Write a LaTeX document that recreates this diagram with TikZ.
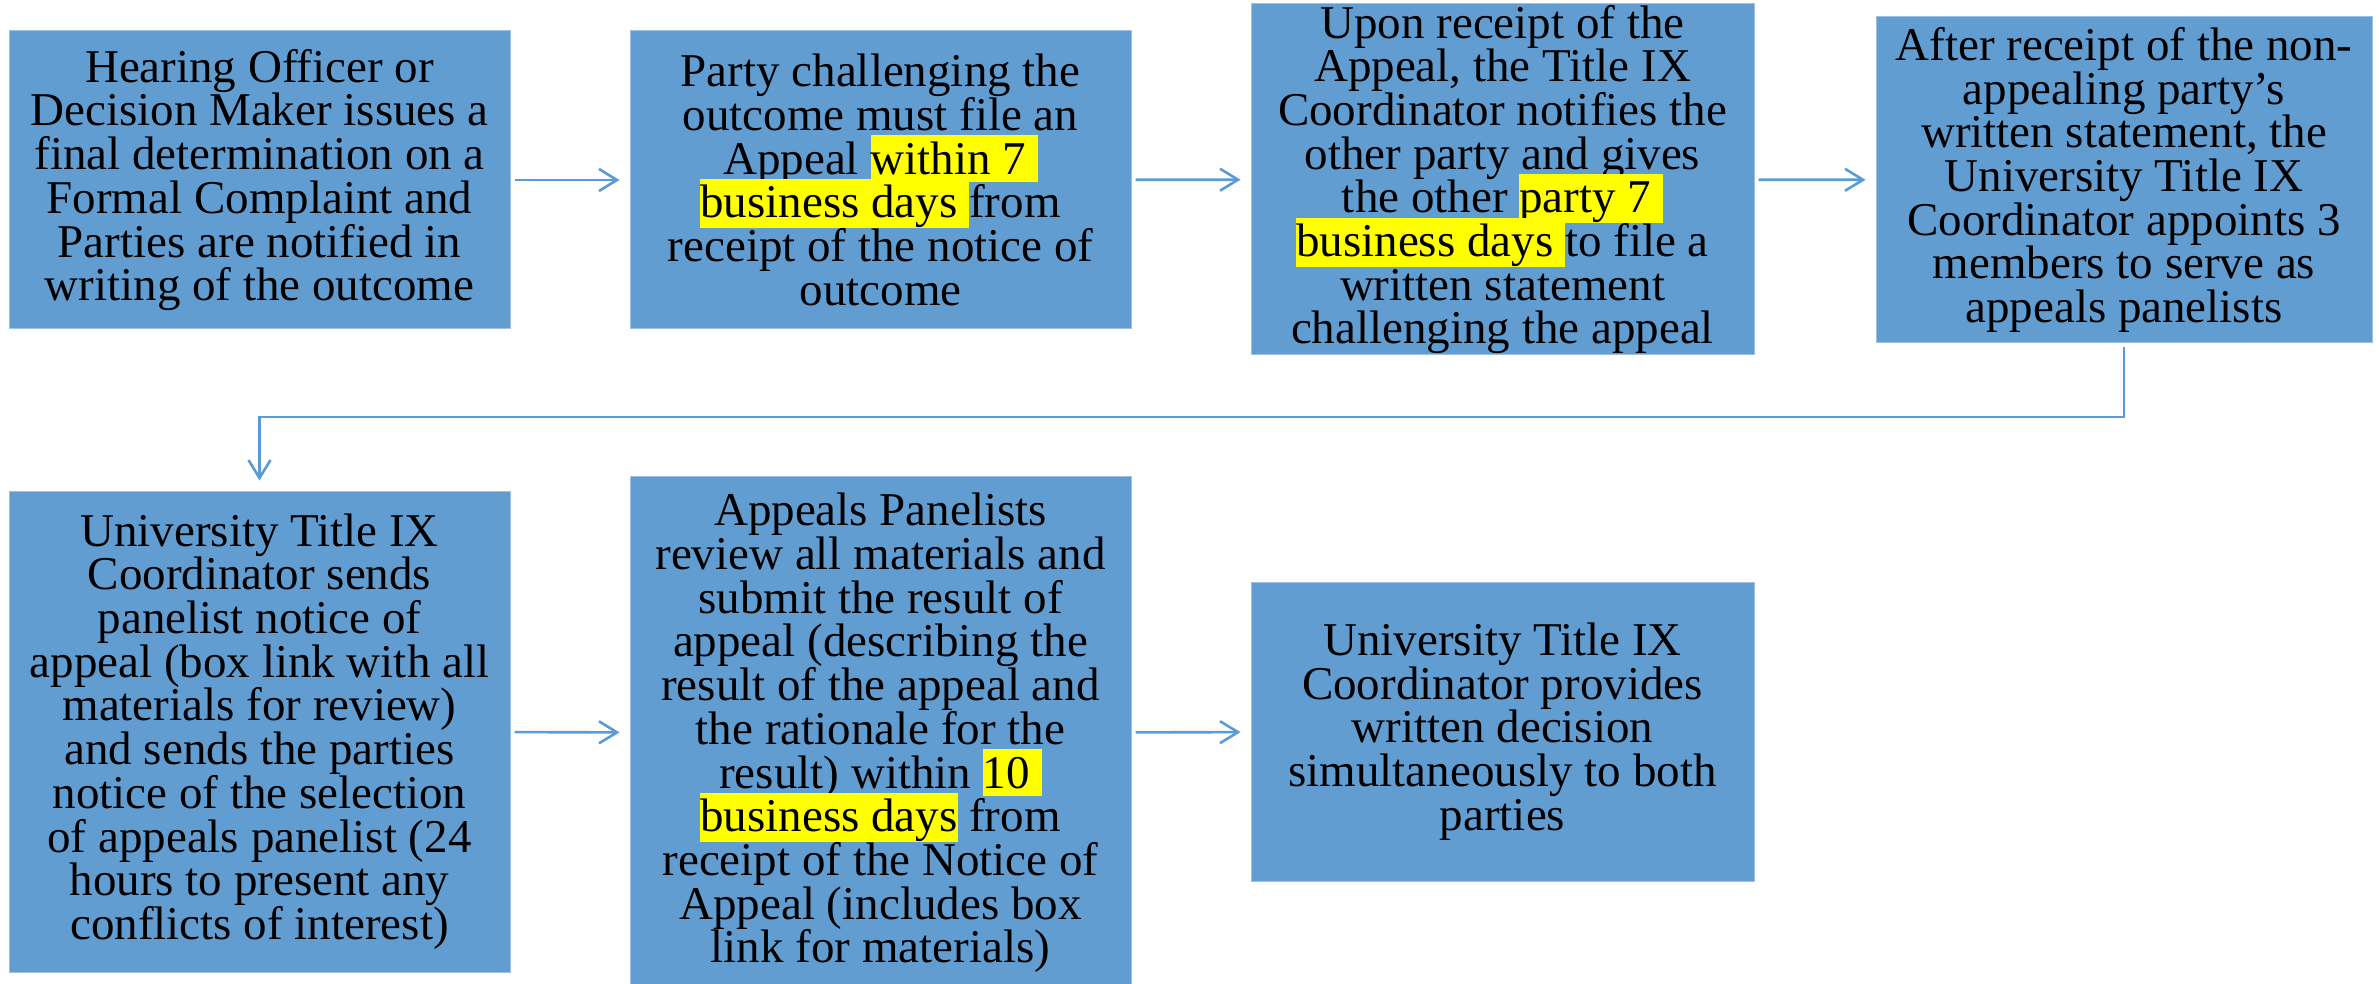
\documentclass[tikz,border=0pt]{standalone}
\usepackage{fontspec}
\setmainfont{Liberation Serif}
\usetikzlibrary{arrows.meta}

\definecolor{boxfill}{HTML}{629DD1}
\definecolor{boxedge}{HTML}{9DC0E3}
\definecolor{linkblue}{HTML}{5B9BD5}
\definecolor{hlyellow}{HTML}{FFFF00}

% yellow marker behind a run of text
\newcommand{\hl}[1]{{\setlength{\fboxsep}{0pt}\colorbox{hlyellow}{\rule[-4pt]{0pt}{23.5pt}#1}}}

\tikzset{
  stepbox/.style={rectangle, fill=boxfill, draw=boxedge, line width=0.5pt,
    inner sep=0pt, align=center, text=black,
    font={\fontsize{23.5}{21.85}\selectfont\lineskiplimit=-100pt}},
  link/.style={draw=linkblue, line width=1.3pt,
    -{Straight Barb[length=9pt,width=11pt,line width=1.3pt]},
    shorten <=2pt, shorten >=5pt},
}

\begin{document}
\begin{tikzpicture}[x=0.5pt,y=-0.5pt]
\useasboundingbox (0,0) rectangle (2379,984);
\clip (0,0) rectangle (2379,984);

% first row
\node[stepbox, minimum width=250.5pt, minimum height=149pt] (b1) at (259.5,180)
  {Hearing Officer or\\Decision Maker issues a\\final determination on a\\Formal Complaint and\\Parties are notified in\\writing of the outcome};
\node[stepbox, minimum width=250.5pt, minimum height=149pt] (b2) at (880.5,180)
  {Party challenging the\\outcome must file an\\Appeal \hl{within 7 }\\\hl{business days }from\\receipt of the notice of\\outcome};
\node[stepbox, minimum width=251.5pt, minimum height=175.5pt] (b3) at (1502.5,179.5)
  {Upon receipt of the\\Appeal, the Title IX\\Coordinator notifies the\\other party and gives\\the other \hl{party 7 }\\\hl{business days }to file a\\written statement\\challenging the appeal};
\node[stepbox, minimum width=248pt, minimum height=163pt] (b4) at (2124,180)
  {After receipt of the non-\\appealing party’s\\written statement, the\\University Title IX\\Coordinator appoints 3\\members to serve as\\appeals panelists};

% second row
\node[stepbox, minimum width=250.5pt, minimum height=240.5pt] (b5) at (259.5,731.5)
  {University Title IX\\Coordinator sends\\panelist notice of\\appeal (box link with all\\materials for review)\\and sends the parties\\notice of the selection\\of appeals panelist (24\\hours to present any\\conflicts of interest)};
\node[stepbox, minimum width=250.5pt, minimum height=257pt] (b6) at (880.5,733)
  {Appeals Panelists\\review all materials and\\submit the result of\\appeal (describing the\\result of the appeal and\\the rationale for the\\result) within \hl{10 }\\\hl{business days} from\\receipt of the Notice of\\Appeal (includes box\\link for materials)};
\node[stepbox, minimum width=251.5pt, minimum height=149.5pt] (b7) at (1502.5,731.5)
  {University Title IX\\Coordinator provides\\written decision\\simultaneously to both\\parties};

% connectors
\draw[link] (b1) -- (b2);
\draw[link] (b2) -- (b3);
\draw[link] (b3) -- (b4);
\coordinate (turn) at (0,417);
\draw[link] (b4.south) -- (b4.south |- turn) -| (b5.north);
\draw[link] (b5) -- (b6);
\draw[link] (b6) -- (b7);
\end{tikzpicture}
\end{document}
